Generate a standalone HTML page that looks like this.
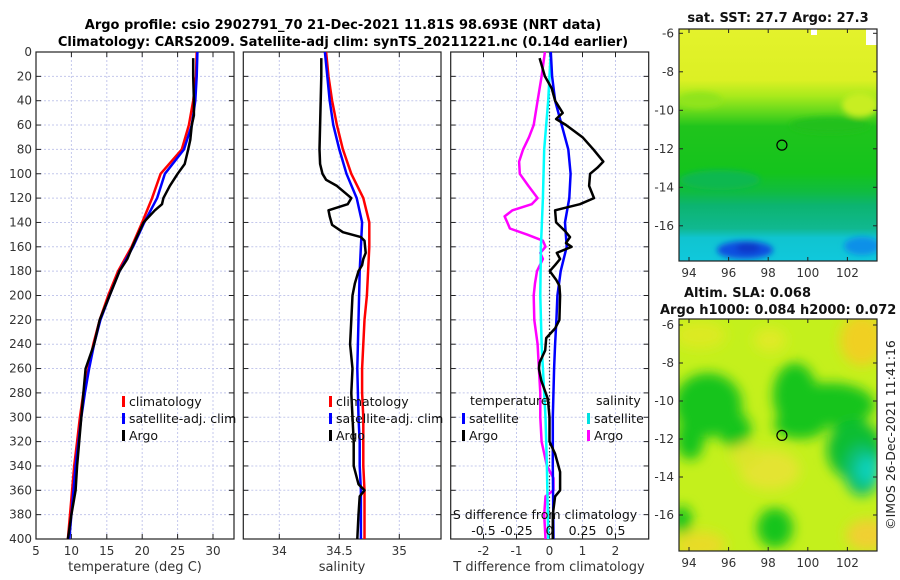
<!DOCTYPE html>
<html><head><meta charset="utf-8"><style>
html,body{margin:0;padding:0;background:#fff;}
svg{display:block;font-family:"DejaVu Sans","Liberation Sans",sans-serif;}
</style></head><body>
<svg id="fig" width="900" height="580" viewBox="0 0 900 580">
<defs>
<filter id="blur6" x="-50%" y="-50%" width="200%" height="200%"><feGaussianBlur stdDeviation="6"/></filter>
<filter id="blur3" x="-50%" y="-50%" width="200%" height="200%"><feGaussianBlur stdDeviation="3"/></filter>
<clipPath id="clipM1"><rect x="679" y="29" width="198" height="232"/></clipPath>
<clipPath id="clipM2"><rect x="679" y="319" width="198" height="232"/></clipPath>
<linearGradient id="sstGrad" x1="0" y1="0" x2="0" y2="1">
<stop offset="0" stop-color="#e4f22c"/><stop offset="0.22" stop-color="#dcf024"/>
<stop offset="0.29" stop-color="#a8ea1c"/><stop offset="0.36" stop-color="#60d81c"/>
<stop offset="0.42" stop-color="#20c41c"/><stop offset="0.62" stop-color="#14c41c"/>
<stop offset="0.7" stop-color="#10bc40"/><stop offset="0.76" stop-color="#0cb470"/>
<stop offset="0.86" stop-color="#10b890"/><stop offset="0.9" stop-color="#10c4d0"/>
<stop offset="1" stop-color="#10c8dc"/>
</linearGradient>
</defs>
<g font-weight="bold" font-size="13" text-anchor="middle">
<text x="343" y="29">Argo profile: csio 2902791_70 21-Dec-2021 11.81S 98.693E (NRT data)</text>
<text x="343" y="46">Climatology: CARS2009. Satellite-adj clim: synTS_20211221.nc (0.14d earlier)</text>
</g>
<g id="panels"></g>
<g id="maps"></g>
</svg>
<script>
// ---------- Data ----------
const depths = [0,20,40,60,80,100,120,140,160,180,200,220,240,260,280,300,320,340,360,380,400];
const tempClim = [27.7,27.6,27.2,26.6,25.6,22.6,21.4,20.0,18.5,16.6,15.2,14.0,13.1,12.4,11.7,11.2,10.8,10.4,10.1,9.8,9.5];
const tempSat  = [27.8,27.7,27.5,27.0,25.9,23.2,22.1,20.3,18.7,16.8,15.4,14.1,13.2,12.5,11.9,11.4,11.0,10.6,10.3,10.0,9.7];
const argoTDepths = [5,20,40,52,60,72,80,92,100,110,120,125,130,140,160,170,180,200,220,240,260,280,300,320,340,360,370,380,400];
const argoTemp = [27.2,27.2,27.3,27.3,27.0,26.8,26.5,26.0,25.0,23.9,23.0,22.8,21.8,20.2,18.6,17.9,16.8,15.4,14.0,13.2,12.0,11.7,11.4,11.1,10.8,10.6,10.3,10.0,9.5];
const salClim = [34.39,34.41,34.44,34.48,34.53,34.60,34.70,34.75,34.75,34.74,34.73,34.71,34.70,34.69,34.69,34.70,34.70,34.70,34.71,34.71,34.71];
const salSat  = [34.38,34.40,34.42,34.45,34.50,34.56,34.645,34.69,34.68,34.67,34.665,34.66,34.655,34.65,34.655,34.66,34.67,34.67,34.68,34.68,34.68];
const argoSDepths = [5,20,40,60,80,92,100,105,110,120,125,130,135,142,148,152,155,165,170,175,180,190,200,220,240,260,280,300,320,340,355,360,365,380,400];
const argoSal = [34.35,34.35,34.345,34.34,34.335,34.34,34.36,34.39,34.48,34.60,34.57,34.41,34.42,34.44,34.53,34.68,34.71,34.72,34.70,34.69,34.66,34.63,34.61,34.60,34.59,34.61,34.60,34.61,34.62,34.62,34.66,34.71,34.67,34.66,34.65];
const tDiffSatDepths = [0,20,40,60,80,100,120,140,160,180,200,220,240,260,300,340,400];
const tDiffSat = [0.04,0.08,0.17,0.37,0.57,0.64,0.60,0.47,0.52,0.34,0.24,0.21,0.17,0.14,0.10,0.10,0.12];
const tDiffArgoDepths = [5,20,30,40,50,55,60,70,80,90,95,100,110,120,125,130,140,147,152,157,160,165,170,175,180,187,192,200,220,227,235,245,255,260,270,285,300,320,330,345,360,365,380,400];
const tDiffArgo = [-0.3,-0.14,0.07,0.17,0.4,0.2,0.5,1.0,1.33,1.63,1.45,1.23,1.2,1.35,0.92,0.17,0.2,0.47,0.62,0.5,0.67,0.22,0.32,0.17,0.01,0.2,0.3,0.32,0.3,0.17,-0.1,-0.13,-0.3,-0.32,-0.25,-0.05,0.0,0.0,0.17,0.32,0.32,0.17,0.1,0.1];
const sDiffSatDepths = [0,40,80,120,160,200,240,260,300,340,400];
const sDiffSat = [0.01,-0.01,-0.04,-0.05,-0.065,-0.07,-0.06,-0.05,-0.03,-0.02,-0.01];
const sDiffArgoDepths = [0,20,40,60,70,80,90,100,110,120,125,130,135,140,145,150,155,160,165,170,180,190,200,220,240,260,280,300,320,340,350,360,365,380,400];
const sDiffArgo = [-0.035,-0.06,-0.09,-0.12,-0.155,-0.2,-0.23,-0.225,-0.16,-0.09,-0.135,-0.28,-0.34,-0.32,-0.3,-0.17,-0.05,-0.03,-0.07,-0.05,-0.095,-0.11,-0.12,-0.115,-0.09,-0.08,-0.07,-0.07,-0.06,-0.02,0.03,0.03,-0.03,-0.04,-0.03];
const depthTicks = [0,20,40,60,80,100,120,140,160,180,200,220,240,260,280,300,320,340,360,380,400];
const tempTicks = [5,10,15,20,25,30];
const salTicks = [34,34.5,35];
const salTickLabels = ["34","34.5","35"];
const tDiffTicks = [-2,-1,0,1,2];
const sDiffTicks = [-0.5,-0.25,0,0.25,0.5];
const sDiffTickLabels = ["-0.5","-0.25","0","0.25","0.5"];

// ---------- Helpers ----------
const NS = "http://www.w3.org/2000/svg";
function mk(tag, attrs, parent){const e=document.createElementNS(NS,tag);for(const k in attrs)e.setAttribute(k,attrs[k]);if(parent)parent.appendChild(e);return e;}
const TOP=52, BOT=539;
const yD = d => TOP + (d/400)*(BOT-TOP);
const panelsG = document.getElementById('panels');

function makePanel(name, x0, x1, xScale, ticks, labels, showY, gridX){
  const g = mk('g', {}, panelsG);
  
  
  const grid = mk('g', {stroke:'#c4c8ec', 'stroke-width':1, 'stroke-dasharray':'2,2'}, g);
  
  
  depthTicks.forEach(d => { mk('line',{x1:x0,x2:x1,y1:yD(d),y2:yD(d)},grid); });
  gridX.forEach(v => { mk('line',{x1:xScale(v),x2:xScale(v),y1:TOP,y2:BOT},grid); });
  const tk = mk('g', {stroke:'#222', 'stroke-width':1}, g);
  depthTicks.forEach(d => { mk('line',{x1:x0,x2:x0+5,y1:yD(d),y2:yD(d)},tk); mk('line',{x1:x1-5,x2:x1,y1:yD(d),y2:yD(d)},tk); });
  ticks.forEach(v => { mk('line',{x1:xScale(v),x2:xScale(v),y1:BOT,y2:BOT-5},tk); mk('line',{x1:xScale(v),x2:xScale(v),y1:TOP,y2:TOP+5},tk); });
  mk('rect',{x:x0,y:TOP,width:x1-x0,height:BOT-TOP,fill:'none',stroke:'#222','stroke-width':1.2},g);
  ticks.forEach((v,i) => {
    const t = mk('text',{x:xScale(v),y:BOT+16,'font-size':12,'text-anchor':'middle',fill:'#333'},g);
    t.textContent = labels[i];
    
    
  });
  if(showY){
    depthTicks.forEach(d => {
      const t = mk('text',{x:x0-4,y:yD(d)+4,'font-size':12,'text-anchor':'end',fill:'#333'},g);
      t.textContent = d;
      
      
    });
  }
  return g;
}
function drawLine(g, xs, ds, xScale, color, name, w){
  const pts = xs.map((v,i)=> xScale(v).toFixed(1)+','+yD(ds[i]).toFixed(1)).join(' ');
  const p = mk('polyline',{points:pts,fill:'none',stroke:color,'stroke-width':w||2.5,'stroke-linejoin':'round'},g);
  
  
  return p;
}
function legendEntry(g, x, y, color, label, name){
  mk('rect',{x:x,y:y-9,width:3,height:11,fill:color},g);
  const t = mk('text',{x:x+7,y:y+1,'font-size':12.5,fill:'#111'},g);
  t.textContent = label;
  
  
}

// ---------- Panel 1: temperature ----------
const xT = v => 36 + (v-5)*7.08;
const p1 = makePanel('temperature-panel', 36, 234, xT, tempTicks, tempTicks.map(String), true, tempTicks);
drawLine(p1, tempClim, depths, xT, '#ff0000', 'temp-climatology-line');
drawLine(p1, tempSat, depths, xT, '#0000ff', 'temp-satellite-line');
drawLine(p1, argoTemp, argoTDepths, xT, '#000000', 'temp-argo-line');
legendEntry(p1, 122, 405, '#ff0000', 'climatology', 'legend-climatology');
legendEntry(p1, 122, 422, '#0000ff', 'satellite-adj. clim', 'legend-satellite');
legendEntry(p1, 122, 439, '#000000', 'Argo', 'legend-argo');
const xl1 = mk('text',{x:135,y:571,'font-size':13,'text-anchor':'middle',fill:'#333'},p1);
xl1.textContent='temperature (deg C)';



// ---------- Panel 2: salinity ----------
const xS = v => 279.3 + (v-34)*120;
const p2 = makePanel('salinity-panel', 243.3, 441, xS, salTicks, salTickLabels, false, salTicks);
drawLine(p2, salClim, depths, xS, '#ff0000', 'sal-climatology-line');
drawLine(p2, salSat, depths, xS, '#0000ff', 'sal-satellite-line');
drawLine(p2, argoSal, argoSDepths, xS, '#000000', 'sal-argo-line');
legendEntry(p2, 329, 405, '#ff0000', 'climatology', 'legend-climatology-sal');
legendEntry(p2, 329, 422, '#0000ff', 'satellite-adj. clim', 'legend-satellite-sal');
legendEntry(p2, 329, 439, '#000000', 'Argo', 'legend-argo-sal');
const xl2 = mk('text',{x:342,y:571,'font-size':13,'text-anchor':'middle',fill:'#333'},p2);
xl2.textContent='salinity';



// ---------- Panel 3: differences ----------
const xTD = v => 549.5 + v*33;
const xSD = v => 549.5 + v*132;
const p3 = makePanel('difference-panel', 450.7, 648.7, xTD, tDiffTicks, tDiffTicks.map(String), false, tDiffTicks);
const zl = mk('line',{x1:xTD(0),x2:xTD(0),y1:TOP,y2:BOT,stroke:'#334',"stroke-width":1.2,'stroke-dasharray':'1.5,2'},p3);


drawLine(p3, sDiffArgo, sDiffArgoDepths, xSD, '#ff00ff', 'sal-diff-argo-line');
drawLine(p3, sDiffSat, sDiffSatDepths, xSD, '#00ffff', 'sal-diff-satellite-line');
drawLine(p3, tDiffSat, tDiffSatDepths, xTD, '#0000ff', 'temp-diff-satellite-line');
drawLine(p3, tDiffArgo, tDiffArgoDepths, xTD, '#000000', 'temp-diff-argo-line');
const lt = mk('text',{x:470,y:405,'font-size':12.5,fill:'#111'},p3); lt.textContent='temperature';


const ls = mk('text',{x:596,y:405,'font-size':12.5,fill:'#111'},p3); ls.textContent='salinity';


legendEntry(p3, 462, 422, '#0000ff', 'satellite', 'legend-t-satellite');
legendEntry(p3, 462, 439, '#000000', 'Argo', 'legend-t-argo');
legendEntry(p3, 587, 422, '#00e0e0', 'satellite', 'legend-s-satellite');
legendEntry(p3, 587, 439, '#ff00ff', 'Argo', 'legend-s-argo');
const sdt = mk('text',{x:545,y:519,'font-size':12.5,'text-anchor':'middle',fill:'#111'},p3);
sdt.textContent='S difference from climatology';


sDiffTicks.forEach((v,i)=>{
  const t = mk('text',{x:xSD(v),y:535,'font-size':12.5,'text-anchor':'middle',fill:'#111'},p3);
  t.textContent = sDiffTickLabels[i];
  
  
});
const xl3 = mk('text',{x:549,y:571,'font-size':13,'text-anchor':'middle',fill:'#333'},p3);
xl3.textContent='T difference from climatology';



// ---------- Maps ----------
const mapsG = document.getElementById('maps');
const lonTicks = [94,96,98,100,102];
const latTicks = [-6,-8,-10,-12,-14,-16];
function mapAxes(g, top, bot, latY, name){
  const tk = mk('g',{stroke:'#222','stroke-width':1},g);
  lonTicks.forEach(l=>{const x=689+(l-94)*19.8; mk('line',{x1:x,x2:x,y1:bot,y2:bot-4},tk); mk('line',{x1:x,x2:x,y1:top,y2:top+4},tk);
    const t=mk('text',{x:x,y:bot+16,'font-size':12,'text-anchor':'middle',fill:'#333'},g); t.textContent=l;
    
    });
  latTicks.forEach(l=>{const y=latY(l); mk('line',{x1:679,x2:683,y1:y,y2:y},tk); mk('line',{x1:873,x2:877,y1:y,y2:y},tk);
    const t=mk('text',{x:674,y:y+4,'font-size':12,'text-anchor':'end',fill:'#333'},g); t.textContent=l;
    
    });
  mk('rect',{x:679,y:top,width:198,height:bot-top,fill:'none',stroke:'#222','stroke-width':1.2},g);
}
// SST map
const m1 = mk('g',{},mapsG);


const m1i = mk('g',{'clip-path':'url(#clipM1)'},m1);
mk('rect',{x:679,y:29,width:198,height:232,fill:'url(#sstGrad)'},m1i);
const sstBlobs=[[745,250,28,9,'#1050e0'],[748,248,12,5,'#0838c8'],[862,246,18,9,'#1090e8'],
 [860,105,18,12,'#c8ee20'],[700,100,22,8,'#90e41c'],[830,125,40,8,'#22c01c'],[720,180,40,10,'#10b850']];
const bg1=mk('g',{filter:'url(#blur3)'},m1i);
sstBlobs.forEach(b=>mk('ellipse',{cx:b[0],cy:b[1],rx:b[2],ry:b[3],fill:b[4]},bg1));
mk('rect',{x:811,y:29,width:6,height:6,fill:'#fff'},m1i);
mk('rect',{x:866,y:29,width:11,height:16,fill:'#fff'},m1i);
const m1lat = l => 33.3 + (-6-l)*19.25;
mapAxes(m1, 29, 261, m1lat, 'sst-map');
mk('circle',{cx:689+(98.693-94)*19.8,cy:m1lat(-11.81),r:5,fill:'none',stroke:'#000','stroke-width':1.2},m1);
const t1=mk('text',{x:778,y:22,'font-size':13,'font-weight':'bold','text-anchor':'middle',fill:'#111'},m1);
t1.textContent='sat. SST: 27.7 Argo: 27.3';



// SLA map
const m2 = mk('g',{},mapsG);


const m2i = mk('g',{'clip-path':'url(#clipM2)'},m2);
mk('rect',{x:679,y:319,width:198,height:232,fill:'#c4f01c'},m2i);
const bg2=mk('g',{filter:'url(#blur6)'},m2i);
const slaBlobs=[
 [862,340,22,26,'#f0d020'],[700,335,26,14,'#dcea24'],[770,340,16,12,'#e0ea28'],
 [708,405,34,32,'#18c41c'],[735,430,16,18,'#18c41c'],[690,440,14,20,'#18c41c'],
 [795,395,22,32,'#16c41c'],[830,405,45,22,'#12c41c'],[800,425,26,14,'#16c41c'],
 [855,450,28,30,'#0cbe30'],[862,470,18,26,'#08c070'],[868,470,12,14,'#10d0b8'],
 [775,528,18,20,'#18c41c'],[682,520,10,14,'#18c41c'],
 [770,470,30,20,'#e4e430'],[868,535,22,16,'#f0d030'],[700,545,26,14,'#e8dc28'],[745,455,14,12,'#dce42a']];
slaBlobs.forEach(b=>mk('ellipse',{cx:b[0],cy:b[1],rx:b[2],ry:b[3],fill:b[4]},bg2));
const m2lat = l => 325 + (-6-l)*19;
mapAxes(m2, 319, 551, m2lat, 'sla-map');
mk('circle',{cx:689+(98.693-94)*19.8,cy:m2lat(-11.81),r:5,fill:'none',stroke:'#000','stroke-width':1.2},m2);
const t2=mk('text',{x:684,y:297,'font-size':13,'font-weight':'bold',fill:'#111'},m2);
t2.textContent='Altim. SLA: 0.068';


const t3=mk('text',{x:660,y:314,'font-size':13,'font-weight':'bold',fill:'#111'},m2);
t3.textContent='Argo h1000: 0.084 h2000: 0.072';


const cp=mk('text',{x:895,y:435,'font-size':12.5,'text-anchor':'middle',fill:'#222',transform:'rotate(-90 895 435)'},mapsG);
cp.textContent='©IMOS 26-Dec-2021 11:41:16';


</script>
</body></html>
